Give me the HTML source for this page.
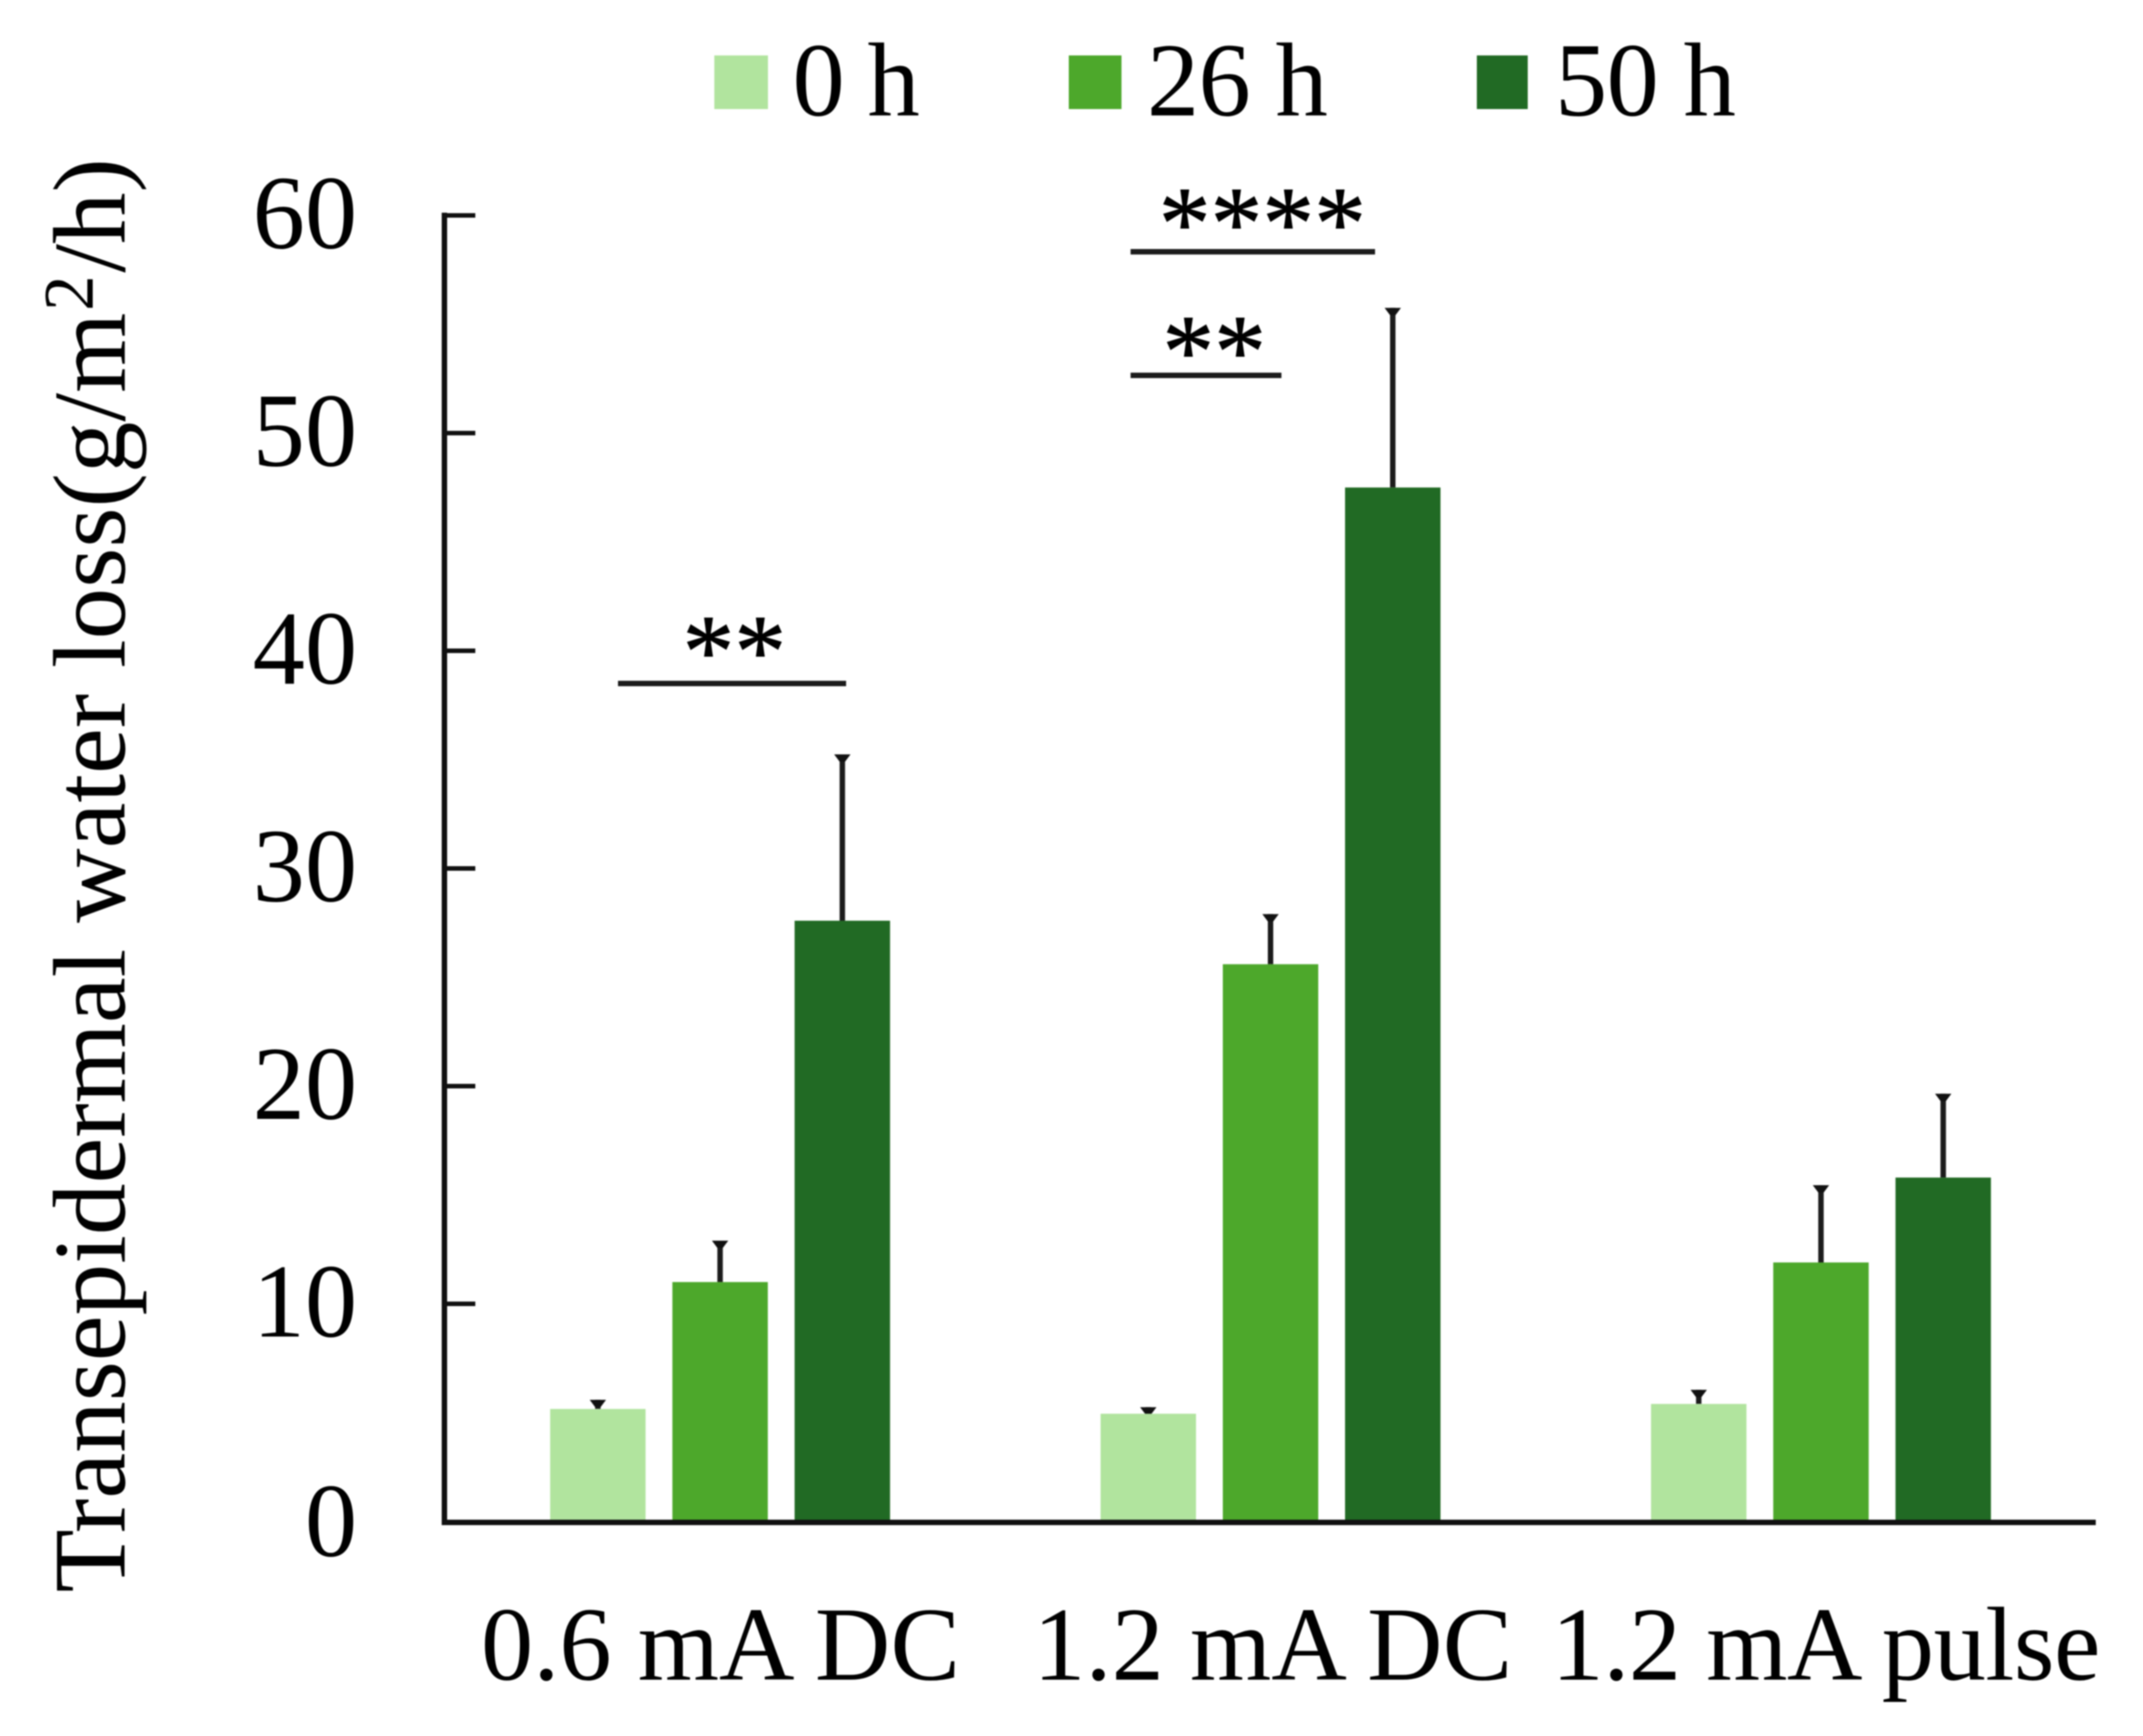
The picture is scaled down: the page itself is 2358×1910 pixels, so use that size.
<!DOCTYPE html>
<html lang="en">
<head>
<meta charset="utf-8">
<title>Transepidermal water loss</title>
<style>
  html, body { margin: 0; padding: 0; background: #fff; }
  svg { display: block; filter: blur(0.8px); }
  text { font-family: "Liberation Serif", "Times New Roman", serif; fill: #000; font-size: 115px; }
  .stars { font-size: 114px; stroke: #000; stroke-width: 1px; }
  .s0 { fill: #b1e49e; }
  .s1 { fill: #4da82b; }
  .s2 { fill: #216a24; }
</style>
</head>
<body>
<svg id="chart" width="2358" height="1910" viewBox="0 0 2358 1910" xmlns="http://www.w3.org/2000/svg">
  <rect x="-10" y="-10" width="2378" height="1930" fill="#fff"/>

  <g id="legend">
    <g>
      <rect class="s0" x="786" y="61" width="59" height="59"/>
      <text x="872" y="127" textLength="140" lengthAdjust="spacing">0 h</text>
    </g>
    <g>
      <rect class="s1" x="1176" y="61" width="58" height="59"/>
      <text x="1262" y="127" textLength="199" lengthAdjust="spacing">26 h</text>
    </g>
    <g>
      <rect class="s2" x="1625" y="61" width="56" height="59"/>
      <text x="1711" y="127" textLength="199" lengthAdjust="spacing">50 h</text>
    </g>
  </g>

  <text transform="translate(137 1752) rotate(-90)" x="0" y="0" style="font-size:113.5px">Transepidermal water loss(g/m<tspan dx="2" dy="-35" style="font-size:78px">2</tspan><tspan dx="3" dy="35">/h)</tspan></text>

  <g id="marks"></g>
  <g id="axes"></g>

  <g>
    <rect x="680" y="749" width="251" height="6" fill="#1c1c1c"/>
    <text class="stars" x="808" y="755" text-anchor="middle">**</text>
    <rect x="1244" y="274" width="269" height="6" fill="#1c1c1c"/>
    <text class="stars" x="1389" y="284" text-anchor="middle">****</text>
    <rect x="1244" y="410" width="166" height="6" fill="#1c1c1c"/>
    <text class="stars" x="1336" y="425" text-anchor="middle">**</text>
  </g>
</svg>

<script>
const categories = ["0.6 mA DC", "1.2 mA DC", "1.2 mA pulse"];
const seriesNames = ["0 h", "26 h", "50 h"];
const values0h = [5.17, 4.95, 5.4];
const values26h = [11.0, 25.6, 11.9];
const values50h = [27.6, 47.5, 15.8];
const errors0h = [0.42, 0.3, 0.65];
const errors26h = [1.9, 2.3, 3.55];
const errors50h = [7.64, 8.25, 3.85];
const yTickValues = [0, 10, 20, 30, 40, 50, 60];
const yTickLabels = ["0", "10", "20", "30", "40", "50", "60"];

const NS = "http://www.w3.org/2000/svg";
const plotLeft = 489, plotRight = 2306, plotBottom = 1674, plotTop = 237;
const yMax = 60;
const barWidth = 105, barPitch = 134.5;
const seriesValues = [values0h, values26h, values50h];
const seriesErrors = [errors0h, errors26h, errors50h];

function yScale(v) {
  return plotBottom - (v / yMax) * (plotBottom - plotTop);
}
function groupCenter(i) {
  return plotLeft + (plotRight - plotLeft) * (i + 0.5) / categories.length;
}
function barCenter(i, s) {
  return groupCenter(i) + (s - (seriesNames.length - 1) / 2) * barPitch;
}
function slug(t) {
  return t.replace(/[^a-zA-Z0-9]+/g, "-").toLowerCase();
}
function make(tag, attrs) {
  const el = document.createElementNS(NS, tag);
  for (const k in attrs) el.setAttribute(k, attrs[k]);
  return el;
}

const marks = document.getElementById("marks");
const axes = document.getElementById("axes");

categories.forEach(function (cat, i) {
  seriesNames.forEach(function (name, s) {
    const v = seriesValues[s][i];
    const e = seriesErrors[s][i];
    const cx = barCenter(i, s) + 0.5;
    const top = yScale(v);
    const errTop = yScale(v + e);

    const stem = make("rect", { x: cx - 3, y: errTop, width: 6, height: top - errTop, fill: "#1c1c1c" });
    
    
    marks.appendChild(stem);

    const cap = make("polygon", {
      points: (cx - 9) + "," + errTop + " " + (cx + 9) + "," + errTop + " " + (cx + 3) + "," + (errTop + 8) + " " + (cx - 3) + "," + (errTop + 8),
      fill: "#111"
    });
    
    
    marks.appendChild(cap);

    const bar = make("rect", { class: "s" + s, x: cx - barWidth / 2, y: top, width: barWidth, height: plotBottom - top });
    
    
    marks.appendChild(bar);
  });

  const label = make("text", { x: groupCenter(i) + (i === 0 ? 1 : i === 1 ? 3 : 6), y: 1848, "text-anchor": "middle" });
  
  
  label.textContent = cat;
  if (i === 2) {
    label.setAttribute("textLength", "604");
    label.setAttribute("lengthAdjust", "spacing");
  }
  axes.appendChild(label);
});

const yAxisLine = make("rect", { x: plotLeft - 3, y: plotTop - 3, width: 6, height: plotBottom - plotTop + 6, fill: "#111" });


axes.appendChild(yAxisLine);

const xAxisLine = make("rect", { x: plotLeft - 3, y: plotBottom - 2, width: plotRight - plotLeft + 3, height: 6, fill: "#111" });


axes.appendChild(xAxisLine);

yTickValues.forEach(function (t, k) {
  const y = yScale(t);
  if (t > 0) {
    const tick = make("rect", { x: plotLeft, y: y - 2.5, width: 34, height: 5, fill: "#111" });
    
    
    axes.appendChild(tick);
  }
  const lab = make("text", { x: 393, y: y + (t === 0 ? 38 : 36), "text-anchor": "end" });
  
  
  lab.textContent = yTickLabels[k];
  axes.appendChild(lab);
});
</script>
</body>
</html>
